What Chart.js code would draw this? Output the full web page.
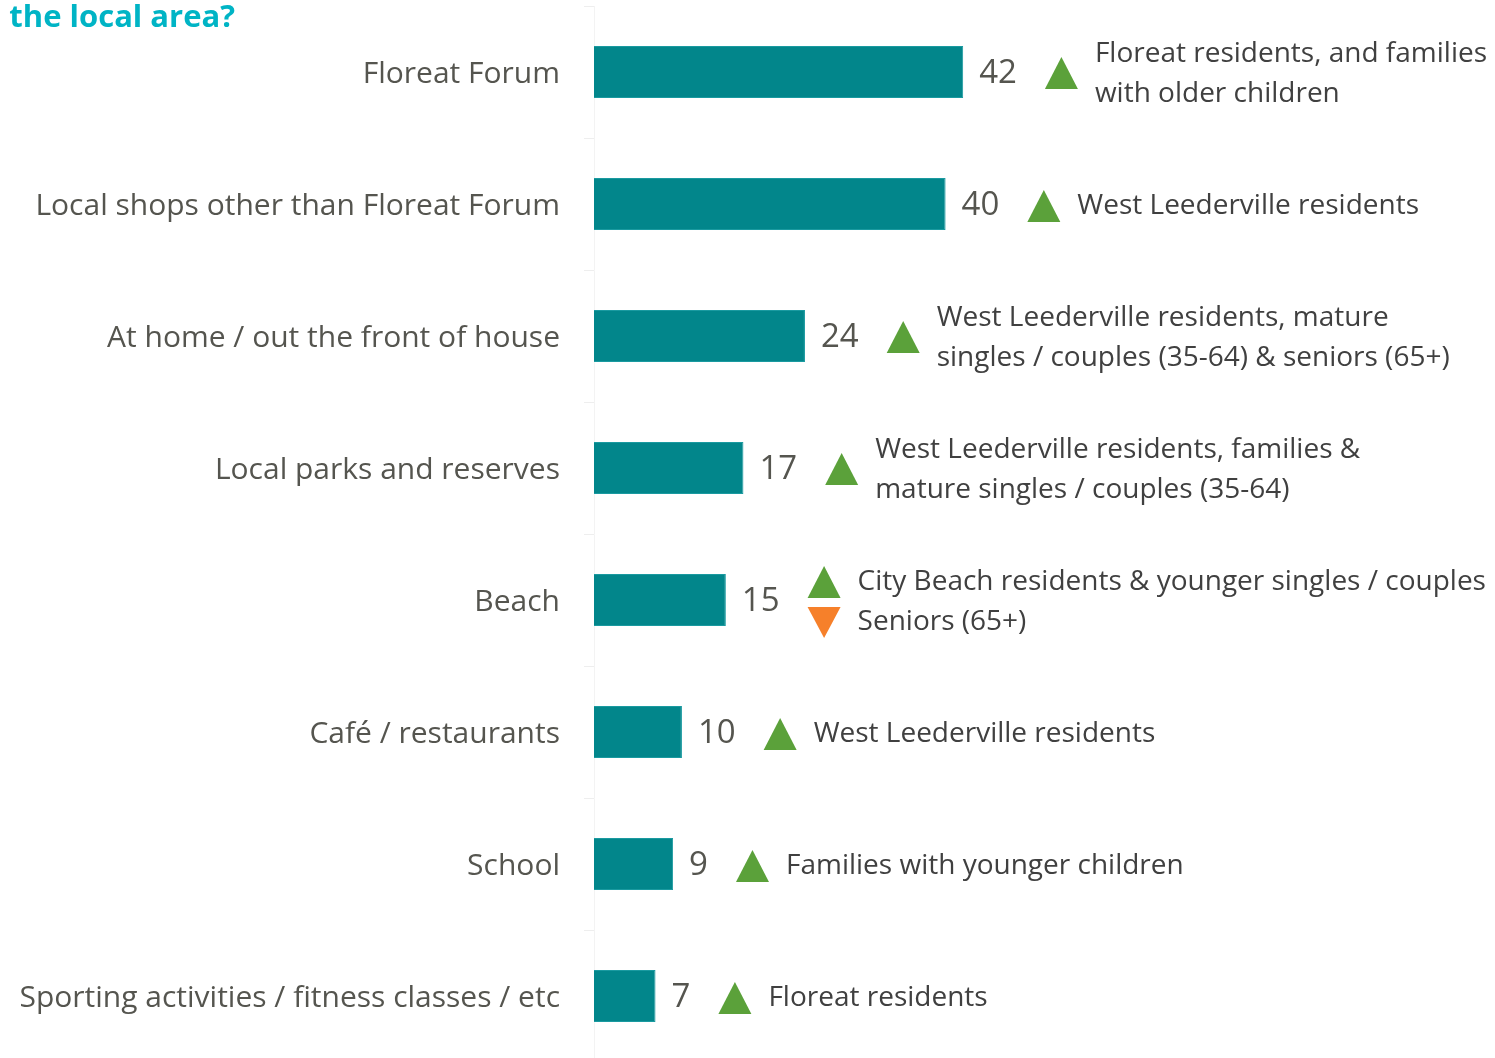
<!DOCTYPE html>
<html>
<head>
<meta charset="utf-8">
<script src="https://cdn.jsdelivr.net/npm/chart.js@4"></script>
<style>
  html, body { margin: 0; padding: 0; background: #fff; overflow: hidden; }
  #wrap { position: absolute; left: 0; top: 0; width: 1495px; height: 1062px; }
</style>
</head>
<body>
<div id="wrap"><canvas id="chart"></canvas></div>
<script>
// categories and values
var places = [
  'Floreat Forum',
  'Local shops other than Floreat Forum',
  'At home / out the front of house',
  'Local parks and reserves',
  'Beach',
  'Café / restaurants',
  'School',
  'Sporting activities / fitness classes / etc'
];
var percents = [42, 40, 24, 17, 15, 10, 9, 7];

// who is more likely (up) / less likely (down)
var arrows = [['up'], ['up'], ['up'], ['up'], ['up', 'down'], ['up'], ['up'], ['up']];
var notes = [
  ['Floreat residents, and families', 'with older children'],
  ['West Leederville residents'],
  ['West Leederville residents, mature', 'singles / couples (35-64) & seniors (65+)'],
  ['West Leederville residents, families &', 'mature singles / couples (35-64)'],
  ['City Beach residents & younger singles / couples', 'Seniors (65+)'],
  ['West Leederville residents'],
  ['Families with younger children'],
  ['Floreat residents']
];
var titleText = 'in the local area?';

var FONT = '"Open Sans", "Noto Sans", sans-serif';
var textGrey = '#55554f';

// value labels + arrows + notes drawn after bars
var notesPlugin = {
  id: 'notes',
  afterDatasetsDraw: function(chart) {
    var ctx = chart.ctx;
    var xs = chart.scales.x, ys = chart.scales.y;
    ctx.save();
    for (var i = 0; i < percents.length; i++) {
      var y = ys.getPixelForValue(i);
      var x = xs.getPixelForValue(percents[i]) + 16;
      ctx.font = '33px ' + FONT;
      ctx.fillStyle = textGrey;
      ctx.textAlign = 'left';
      ctx.textBaseline = 'middle';
      var txt = String(percents[i]);
      ctx.fillText(txt, x, y + 2);
      var tx = x + ctx.measureText(txt).width + 28;

      var lines = notes[i];
      var lh = 40;
      var lineY = [];
      for (var k = 0; k < lines.length; k++) {
        lineY.push(y + 2 + (k - (lines.length - 1) / 2) * lh);
      }
      // triangles
      var triY = arrows[i].length == lines.length ? lineY : [y + 1];
      for (var a = 0; a < arrows[i].length; a++) {
        var cy = triY[a];
        ctx.beginPath();
        if (arrows[i][a] == 'up') {
          ctx.fillStyle = '#5ba13a';
          ctx.moveTo(tx, cy + 16);
          ctx.lineTo(tx + 33, cy + 16);
          ctx.lineTo(tx + 16.5, cy - 16);
        } else {
          ctx.fillStyle = '#f6802a';
          ctx.moveTo(tx, cy - 15);
          ctx.lineTo(tx + 33, cy - 15);
          ctx.lineTo(tx + 16.5, cy + 16);
        }
        ctx.closePath();
        ctx.fill();
      }
      ctx.font = '28px ' + FONT;
      ctx.fillStyle = '#404040';
      for (var k = 0; k < lines.length; k++) {
        ctx.fillText(lines[k], tx + 50, lineY[k]);
      }
    }
    // title (cut off on the left like the slide)
    ctx.font = 'bold 31px ' + FONT;
    ctx.fillStyle = '#00b4c5';
    ctx.textAlign = 'right';
    ctx.textBaseline = 'middle';
    ctx.fillText(titleText, 235, 18);
    ctx.restore();
  }
};

var ctx = document.getElementById('chart').getContext('2d');
var barChart = new Chart(ctx, {
  type: 'bar',
  data: {
    labels: places,
    datasets: [{
      data: percents,
      backgroundColor: '#02868b',
      borderColor: '#1a9aa0',
      borderWidth: 1,
      barPercentage: 0.8,
      categoryPercentage: 0.4925
    }]
  },
  options: {
    indexAxis: 'y',
    responsive: true,
    maintainAspectRatio: false,
    animation: false,
    layout: { padding: { top: 6, right: 22, left: 0, bottom: 0 } },
    plugins: { legend: { display: false }, tooltip: { enabled: false } },
    scales: {
      x: { display: false, min: 0, max: 100 },
      y: {
        afterFit: function(axis) {
          axis.width = 594;
          axis.paddingTop = 0;
          axis.paddingBottom = 0;
        },
        border: { color: '#f3f3f3', width: 1 },
        grid: { drawOnChartArea: false, color: '#eeeeee', tickLength: 10, offset: true },
        ticks: {
          color: textGrey,
          padding: 24,
          labelOffset: 2,
          font: { family: FONT, size: 30 }
        }
      }
    }
  },
  plugins: [notesPlugin]
});
</script>
</body>
</html>
